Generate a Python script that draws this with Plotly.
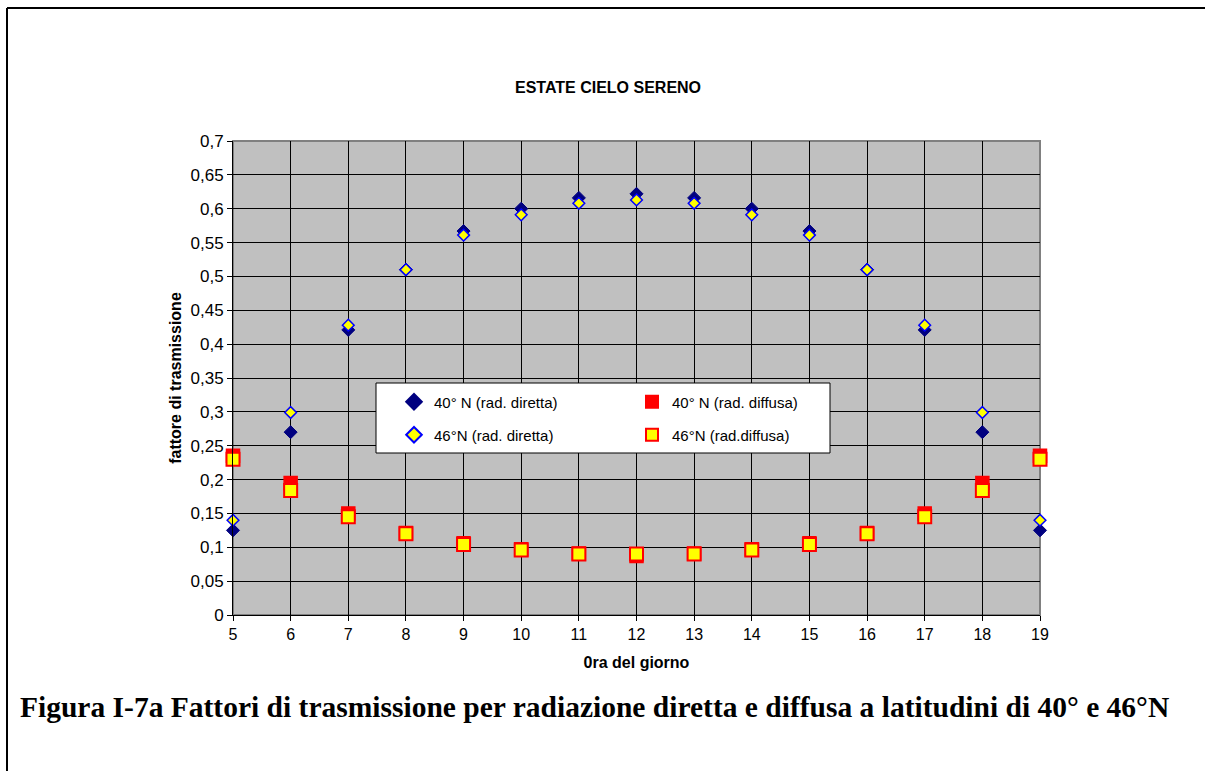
import plotly.graph_objects as go

hours = [5, 6, 7, 8, 9, 10, 11, 12, 13, 14, 15, 16, 17, 18, 19]
dir_40 = [0.125, 0.27, 0.421, 0.51, 0.567, 0.6, 0.616, 0.622, 0.616, 0.6, 0.567, 0.51, 0.421, 0.27, 0.125]
diff_40 = [0.235, 0.195, 0.15, 0.121, 0.106, 0.097, 0.091, 0.087, 0.091, 0.097, 0.106, 0.121, 0.15, 0.195, 0.235]
dir_46 = [0.14, 0.299, 0.428, 0.51, 0.561, 0.591, 0.608, 0.613, 0.608, 0.591, 0.561, 0.51, 0.428, 0.299, 0.14]
diff_46 = [0.23, 0.184, 0.145, 0.12, 0.104, 0.096, 0.09, 0.09, 0.09, 0.096, 0.104, 0.12, 0.145, 0.184, 0.23]

names = ["40° N (rad. diretta)", "40° N (rad. diffusa)", "46°N (rad. diretta)", "46°N (rad.diffusa)"]
title_text = "ESTATE CIELO SERENO"
x_title = "0ra del giorno"
y_title = "fattore di trasmissione"
caption = "Figura I-7a Fattori di trasmissione per radiazione diretta e diffusa a latitudini di 40° e 46°N"

L, R, T, B = 233, 165, 141, 156
W, H = 1205, 771
pw, ph = W - L - R, H - T - B

def px(xp):
    return (xp - L) / pw

def py(yp):
    return (H - B - yp) / ph

fig = go.Figure()
fig.add_trace(go.Scatter(x=hours, y=dir_40, mode="markers", name=names[0], legend="legend",
                         marker=dict(symbol="diamond", size=10, color="#000080",
                                     line=dict(color="#000080", width=1)),
                         cliponaxis=False))
fig.add_trace(go.Scatter(x=hours, y=diff_40, mode="markers", name=names[1], legend="legend",
                         marker=dict(symbol="square", size=13, color="#ff0000",
                                     line=dict(color="#ff0000", width=1.5)),
                         cliponaxis=False))
fig.add_trace(go.Scatter(x=hours, y=dir_46, mode="markers", name=names[2], legend="legend2",
                         marker=dict(symbol="diamond", size=9, color="#ffff00",
                                     line=dict(color="#0000ff", width=1.5)),
                         cliponaxis=False))
fig.add_trace(go.Scatter(x=hours, y=diff_46, mode="markers", name=names[3], legend="legend2",
                         marker=dict(symbol="square", size=13, color="#ffff00",
                                     line=dict(color="#ff0000", width=2)),
                         cliponaxis=False))

font_sans = "Liberation Sans, Arial, sans-serif"

leg_common = dict(orientation="h", bgcolor="rgba(0,0,0,0)", borderwidth=0,
                  font=dict(family=font_sans, size=15, color="black"),
                  entrywidth=193, entrywidthmode="pixels", itemsizing="constant",
                  xanchor="left", yanchor="middle", itemclick=False, itemdoubleclick=False)

fig.update_layout(
    width=W, height=H,
    margin=dict(l=L, r=R, t=T, b=B),
    paper_bgcolor="white",
    plot_bgcolor="#c0c0c0",
    separators=",.",
    showlegend=True,
    title=dict(text="<b>" + title_text + "</b>", x=608 / W, xanchor="center",
               y=1 - 87 / H, yanchor="middle",
               font=dict(family=font_sans, size=16, color="black")),
    legend=dict(x=px(394), y=py(402), **leg_common),
    legend2=dict(x=px(394), y=py(435), **leg_common),
    xaxis=dict(range=[5, 19], dtick=1, tick0=5, showgrid=True, gridcolor="black", gridwidth=1,
               showline=True, linecolor="black", linewidth=1, ticks="outside", ticklen=5,
               tickcolor="black", zeroline=False,
               tickfont=dict(family=font_sans, size=16, color="black"),
               title=dict(text="<b>" + x_title + "</b>", standoff=14,
                          font=dict(family=font_sans, size=16, color="black"))),
    yaxis=dict(range=[0, 0.7], dtick=0.05, tick0=0, showgrid=True, gridcolor="black", gridwidth=1,
               showline=True, linecolor="black", linewidth=1, ticks="outside", ticklen=5,
               tickcolor="black", zeroline=False, ticklabelstandoff=0,
               tickfont=dict(family=font_sans, size=17, color="black"),
               title=dict(text="<b>" + y_title + "</b>", standoff=4,
                          font=dict(family=font_sans, size=16, color="black"))),
    shapes=[
        # plot-area border (grey)
        dict(type="rect", xref="x domain", yref="y domain", x0=0, x1=1, y0=0, y1=1,
             line=dict(color="#808080", width=2), layer="below"),
        # legend box
        dict(type="rect", xref="paper", yref="paper", x0=px(376), x1=px(830),
             y0=py(453), y1=py(383), fillcolor="white",
             line=dict(color="black", width=1), layer="above"),
        # outer page frame: top and left edges
        dict(type="line", xref="paper", yref="paper", x0=px(7), x1=px(W),
             y0=py(8), y1=py(8), line=dict(color="black", width=2), layer="above"),
        dict(type="line", xref="paper", yref="paper", x0=px(7), x1=px(7),
             y0=py(8), y1=py(H), line=dict(color="black", width=2), layer="above"),
    ],
    annotations=[
        dict(text="<b>" + caption + "</b>", xref="paper", yref="paper",
             x=px(18), y=py(707), xanchor="left", yanchor="middle", showarrow=False,
             font=dict(family="Liberation Serif, Times New Roman, serif", size=29.5, color="black")),
    ],
)

fig.write_html("out.html")
